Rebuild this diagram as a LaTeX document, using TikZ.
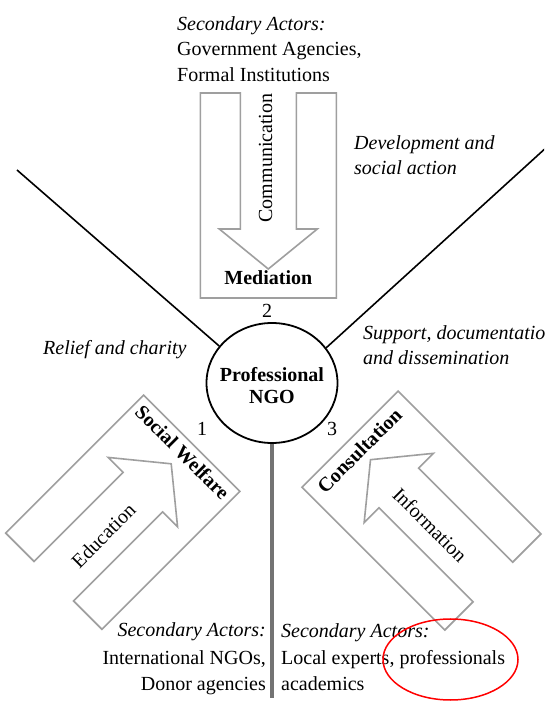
\documentclass[tikz,border=0pt]{standalone}
\usepackage{fontspec}
\setmainfont{Liberation Serif}
\usetikzlibrary{shapes.geometric}
\begin{document}
\begin{tikzpicture}[x=1pt,y=1pt,
  txt/.style={font=\fontsize{20}{25}\selectfont, inner sep=0pt},
  itxt/.style={inner sep=0pt, font=\fontsize{20}{25}\selectfont\itshape},
  btxt/.style={inner sep=0pt, font=\fontsize{20}{25}\selectfont\bfseries},
  boxline/.style={draw=gray!75, line width=1.6pt, line join=miter},
  spoke/.style={draw=black, line width=1.6pt},
  stem/.style={draw=black!55, line width=3.5pt},
  % open-ended box with a block arrow cut into it; #1 = box length
  pics/arrowbox/.style={code={
    \draw[boxline] (-28,-#1) -- (-28,-69) -- (-49,-69) -- (0,-29) -- (49,-69)
      -- (28,-69) -- (28,-#1) -- (68,-#1) -- (68,0) -- (-68,0) -- (-68,-#1) -- cycle;
  }},
]
\useasboundingbox (0,0) rectangle (544,702);
\clip (0,0) rectangle (544,702);
\fill[white] (0,0) rectangle (544,702);

% central actor
\node[ellipse, draw, line width=1.8pt, minimum width=131pt, minimum height=120pt, inner sep=0pt] (ngo) at (272,319) {};
\node[btxt, anchor=base] (ngoa) at (272,320.3) {Professional};
\node[btxt, anchor=base] (ngob) at (272,298.7) {NGO};

% dividing spokes
\coordinate (lend) at (17,532);
\coordinate (rend) at (548,556);
\coordinate (vend) at (272,4);
\draw[spoke] (lend) -- (ngo.145);
\draw[spoke] (rend) -- (ngo.33);
\draw[stem] (ngo.south) -- (vend);

% sector 2: mediation
\node[itxt, anchor=base west] (ga0) at (177,671) {Secondary Actors:};
\node[txt, anchor=base west] (ga1) at (177,646) {Government Agencies,};
\node[txt, anchor=base west] (ga2) at (177,620) {Formal Institutions};
\pic[rotate=180] at (268.3,404) {arrowbox=205};
\node[txt, rotate=90] (comm) at (265.5,544) {Communication};
\node[btxt, anchor=base] (med) at (268.3,417) {Mediation};
\node[txt, anchor=base] (n2) at (267,384) {2};
\node[itxt, anchor=base west] (dev1) at (354,552) {Development and};
\node[itxt, anchor=base west] (dev2) at (354,527) {social action};

% sector 1: social welfare
\node[itxt, anchor=base west] (rel) at (43,347) {Relief and charity};
\pic[rotate=-45] at (191.7,258.7) {arrowbox=195};
\node[btxt, rotate=-45] (sw) at (182.5,249.5) {Social Welfare};
\node[txt, rotate=45] (edu) at (103.5,166.5) {Education};
\node[txt, anchor=base] (n1) at (202,266) {1};
\node[itxt, anchor=base east] (ia0) at (266,65) {Secondary Actors:};
\node[txt, anchor=base east] (ia1) at (266,37) {International NGOs,};
\node[txt, anchor=base east] (ia2) at (266,11) {Donor agencies};

% sector 3: consultation
\node[itxt, anchor=base west] (sup1) at (363,362) {Support, documentation};
\node[itxt, anchor=base west] (sup2) at (363,337) {and dissemination};
\pic[rotate=45] at (350,262.8) {arrowbox=202};
\node[btxt, rotate=45] (cons) at (359.5,251.5) {Consultation};
\node[txt, rotate=-45] (info) at (430,177) {Information};
\node[txt, anchor=base] (n3) at (332,266) {3};
\node[itxt, anchor=base west] (la0) at (281,64) {Secondary Actors:};
\node[txt, anchor=base west] (la1) at (281,37) {Local experts, professionals};
\node[txt, anchor=base west] (la2) at (281,12) {academics};

% highlight ring
\draw[red, line width=1.5pt] (450.5,42.5) ellipse [x radius=67.5, y radius=40.5];
\end{tikzpicture}
\end{document}
